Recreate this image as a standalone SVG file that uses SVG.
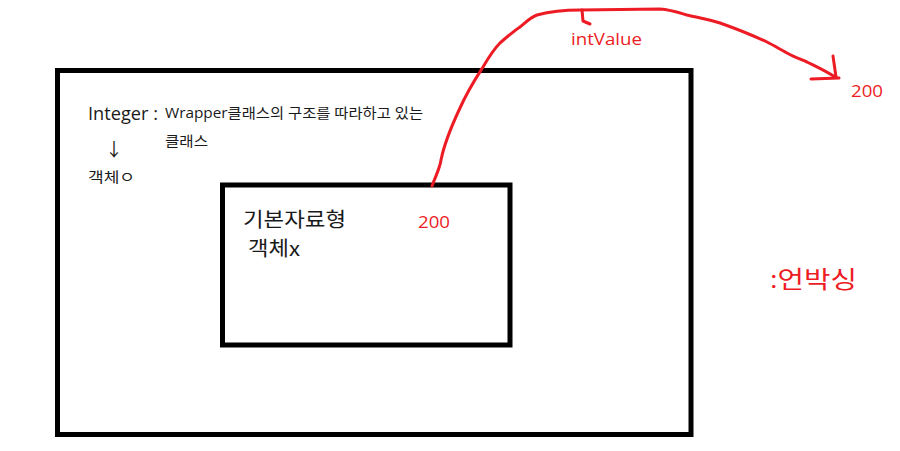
<svg xmlns="http://www.w3.org/2000/svg" width="900" height="451" viewBox="0 0 900 451">
<style>
.box{fill:none;stroke:#000;stroke-width:5}
.red{fill:none;stroke:#ed1c24;stroke-width:3;stroke-linecap:round;stroke-linejoin:round}
.t{font-family:"Open Sans","Noto Sans","Noto Sans CJK KR",sans-serif;fill:#1a1a1a}
.k{font-family:"Noto Sans CJK KR","Noto Sans",sans-serif;fill:#1a1a1a}
.r{font-family:"Open Sans","Noto Sans","Noto Sans CJK KR",sans-serif;fill:#ed1c24}
</style>
<rect width="900" height="451" fill="#fff"/>
<g id="outer">
<rect class="box" x="57.5" y="70.5" width="633.5" height="364"/>
<text class="t" x="88" y="120" font-size="18" textLength="70" lengthAdjust="spacingAndGlyphs">Integer :</text>
<text class="t" x="165" y="118" font-size="14" textLength="258" lengthAdjust="spacingAndGlyphs">Wrapper클래스의 구조를 따라하고 있는</text>
<text class="k" x="165" y="146" font-size="14" textLength="43" lengthAdjust="spacingAndGlyphs">클래스</text>
<text class="t" x="105" y="156" font-size="18">↓</text>
<text class="k" x="88" y="182" font-size="14" textLength="47" lengthAdjust="spacingAndGlyphs">객체ㅇ</text>
</g>
<g id="inner">
<rect class="box" x="222.5" y="185" width="287.5" height="160"/>
<text class="k" x="243" y="227" font-size="20" textLength="103" lengthAdjust="spacingAndGlyphs">기본자료형</text>
<text class="k" x="248" y="256" font-size="20" textLength="52" lengthAdjust="spacingAndGlyphs">객체x</text>
<text class="r" x="418" y="228" font-size="16" textLength="32" lengthAdjust="spacingAndGlyphs">200</text>
</g>
<g id="connectors">
<path class="red" d="M432,186 C436,175 440,168 441,160 C444,145 452,125 460,108 C468,90 476,78 483,67 C490,55 495,48 500,43 C508,36 514,31 520,27 C526,22 531,17 537,15 C552,11 566,10 580,10 L660,9 C672,10 680,13 687,15 C700,18 710,20 720,23 C737,29 752,35 767,42 C775,46 781,50 787,53 C794,57 800,59 807,62 C815,66 826,71 835,77"/>
<path class="red" d="M833,56 L836,77 M811,79 L839,78"/>
<path class="red" d="M582,10 L583,21 L590,24"/>
</g>
<g id="labels">
<text class="r" x="571" y="45" font-size="16" textLength="71" lengthAdjust="spacingAndGlyphs">intValue</text>
<text class="r" x="851" y="97" font-size="16" textLength="32" lengthAdjust="spacingAndGlyphs">200</text>
<text class="r" x="770" y="288" font-size="24" textLength="87" lengthAdjust="spacingAndGlyphs">:언박싱</text>
</g>
</svg>
